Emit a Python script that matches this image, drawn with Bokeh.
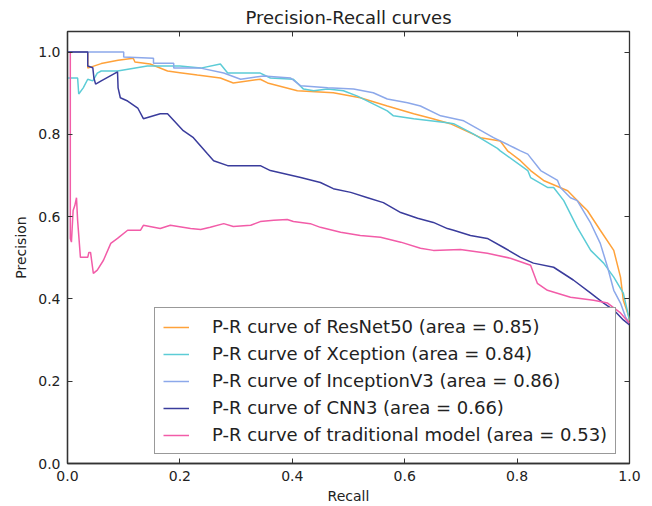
from bokeh.plotting import figure
from bokeh.models import (Range1d, LinearAxis, SingleIntervalTicker, NumeralTickFormatter, Legend, LegendItem,
                          CustomJSTickFormatter)
from bokeh.embed import file_html
from bokeh.resources import INLINE

# ---------------- data ----------------
resnet_r = [0.0, 0.036, 0.036, 0.06, 0.09, 0.117, 0.12, 0.147, 0.178, 0.2, 0.231, 0.272, 0.295, 0.343, 0.356,
            0.409, 0.473, 0.521, 0.569, 0.616, 0.650, 0.681, 0.735, 0.770, 0.783, 0.806, 0.824, 0.847, 0.890,
            0.907, 0.925, 0.948, 0.972, 0.984, 0.989, 0.998, 1.0]
resnet_p = [1.0, 1.0, 0.961, 0.972, 0.980, 0.985, 0.976, 0.971, 0.954, 0.950, 0.944, 0.937, 0.925, 0.934, 0.925,
            0.906, 0.901, 0.889, 0.869, 0.850, 0.838, 0.826, 0.792, 0.784, 0.760, 0.736, 0.712, 0.688, 0.663,
            0.639, 0.615, 0.567, 0.518, 0.453, 0.397, 0.360, 0.345]

xcep_r = [0.0, 0.018, 0.020, 0.028, 0.036, 0.045, 0.053, 0.060, 0.089, 0.142, 0.200, 0.237, 0.272, 0.285, 0.343,
          0.361, 0.402, 0.420, 0.438, 0.463, 0.491, 0.516, 0.569, 0.580, 0.616, 0.676, 0.687, 0.722, 0.765,
          0.770, 0.819, 0.824, 0.854, 0.865, 0.883, 0.907, 0.931, 0.954, 0.972, 0.989, 0.998, 1.0]
xcep_p = [0.937, 0.937, 0.898, 0.913, 0.934, 0.930, 0.949, 0.954, 0.954, 0.966, 0.966, 0.961, 0.971, 0.949, 0.949,
          0.937, 0.934, 0.910, 0.906, 0.910, 0.906, 0.893, 0.857, 0.845, 0.838, 0.828, 0.826, 0.801, 0.766,
          0.760, 0.712, 0.695, 0.671, 0.671, 0.639, 0.574, 0.518, 0.487, 0.453, 0.414, 0.360, 0.349]

incep_r = [0.0, 0.100, 0.100, 0.153, 0.153, 0.189, 0.189, 0.237, 0.278, 0.308, 0.349, 0.397, 0.415, 0.463,
           0.509, 0.544, 0.569, 0.605, 0.628, 0.664, 0.705, 0.758, 0.794, 0.806, 0.819, 0.842, 0.872, 0.877,
           0.895, 0.907, 0.931, 0.948, 0.961, 0.972, 0.984, 0.993, 1.0]
incep_p = [1.0, 1.0, 0.988, 0.985, 0.973, 0.973, 0.961, 0.961, 0.949, 0.934, 0.942, 0.937, 0.918, 0.913,
           0.910, 0.901, 0.886, 0.877, 0.869, 0.845, 0.833, 0.792, 0.768, 0.760, 0.752, 0.712, 0.688, 0.671,
           0.646, 0.639, 0.584, 0.535, 0.477, 0.421, 0.390, 0.356, 0.341]

cnn_r = [0.0, 0.036, 0.036, 0.045, 0.047, 0.050, 0.060, 0.089, 0.090, 0.094, 0.107, 0.125, 0.135, 0.165, 0.178,
         0.206, 0.224, 0.249, 0.260, 0.285, 0.343, 0.361, 0.415, 0.450, 0.473, 0.504, 0.534, 0.562, 0.593, 0.623,
         0.651, 0.676, 0.687, 0.717, 0.747, 0.776, 0.806, 0.829, 0.865, 0.900, 0.931, 0.954, 0.972, 0.989, 1.0]
cnn_p = [1.0, 1.0, 0.966, 0.962, 0.937, 0.922, 0.930, 0.952, 0.913, 0.889, 0.881, 0.864, 0.838, 0.850, 0.850,
         0.809, 0.792, 0.753, 0.736, 0.724, 0.724, 0.712, 0.695, 0.683, 0.668, 0.659, 0.646, 0.634, 0.610, 0.596,
         0.586, 0.571, 0.567, 0.554, 0.547, 0.525, 0.501, 0.487, 0.477, 0.446, 0.414, 0.390, 0.373, 0.349, 0.337]

trad_r = [0.005, 0.005, 0.007, 0.010, 0.013, 0.016, 0.018, 0.023, 0.036, 0.038, 0.041, 0.046, 0.053, 0.064, 0.077,
          0.089, 0.107, 0.130, 0.135, 0.165, 0.183, 0.219, 0.237, 0.254, 0.278, 0.295, 0.326, 0.343, 0.367, 0.391,
          0.402, 0.432, 0.450, 0.486, 0.521, 0.557, 0.593, 0.628, 0.651, 0.699, 0.747, 0.788, 0.824, 0.836, 0.854,
          0.895, 0.936, 0.961, 0.984, 1.0]
trad_p = [1.0, 0.547, 0.538, 0.615, 0.627, 0.646, 0.591, 0.501, 0.501, 0.513, 0.513, 0.462, 0.470, 0.494, 0.535,
          0.547, 0.567, 0.567, 0.579, 0.571, 0.579, 0.571, 0.569, 0.574, 0.583, 0.576, 0.579, 0.588, 0.591, 0.593,
          0.588, 0.583, 0.574, 0.562, 0.554, 0.550, 0.538, 0.523, 0.518, 0.520, 0.511, 0.499, 0.482, 0.438, 0.421,
          0.404, 0.397, 0.390, 0.366, 0.341]

labels = ["P-R curve of ResNet50 (area = 0.85)",
          "P-R curve of Xception (area = 0.84)",
          "P-R curve of InceptionV3 (area = 0.86)",
          "P-R curve of CNN3 (area = 0.66)",
          "P-R curve of traditional model (area = 0.53)"]
colors = ["#FFA23A", "#5CCCD6", "#8CA8EA", "#3A3C9C", "#F25CA8"]
series = [(resnet_r, resnet_p), (xcep_r, xcep_p), (incep_r, incep_p), (cnn_r, cnn_p), (trad_r, trad_p)]

FONT = "DejaVu Sans"
TXT = "#222222"

p = figure(width=652, height=506, output_backend="svg", toolbar_location=None,
           x_range=Range1d(0, 1), y_range=Range1d(0, 1.05),
           min_border_left=67, min_border_right=23, min_border_top=31, min_border_bottom=10,
           title="Precision-Recall curves")
p.title.align = "center"
p.title.text_font = FONT
p.title.text_font_size = "18px"
p.title.text_font_style = "normal"
p.title.text_color = TXT
p.title.standoff = 0

p.xgrid.visible = False
p.ygrid.visible = False
p.outline_line_color = "#333333"
p.outline_line_width = 1.3
p.background_fill_color = "white"
p.border_fill_color = "white"

for ax in (p.xaxis[0], p.yaxis[0]):
    ax.ticker = SingleIntervalTicker(interval=0.2)
    ax.formatter = NumeralTickFormatter(format="0.0")
    ax.major_tick_in = 5
    ax.major_tick_out = 0
    ax.minor_tick_line_color = None
    ax.axis_line_color = "#333333"
    ax.axis_line_width = 1.3
    ax.major_tick_line_color = "#333333"
    ax.major_label_text_font = FONT
    ax.major_label_text_font_size = "14px"
    ax.major_label_text_color = TXT
    ax.axis_label_text_font = FONT
    ax.axis_label_text_font_size = "14px"
    ax.axis_label_text_font_style = "normal"
    ax.axis_label_text_color = TXT
p.xaxis.axis_label = "Recall"
p.yaxis.axis_label = "Precision"
p.xaxis.major_label_standoff = 3
p.yaxis.major_label_standoff = 3
p.xaxis.axis_label_standoff = 4
p.yaxis.axis_label_standoff = 6

for loc in ("above", "right"):
    ax = LinearAxis(ticker=SingleIntervalTicker(interval=0.2),
                    formatter=CustomJSTickFormatter(code="return ''"),
                    major_tick_in=5, major_tick_out=0, minor_tick_line_color=None,
                    major_label_standoff=0, axis_line_color=None, major_tick_line_color="#333333")
    p.add_layout(ax, loc)

items = []
for (r, pr), c, lab in zip(series, colors, labels):
    rend = p.line(r, pr, line_color=c, line_width=1.5)
    items.append(LegendItem(label=lab, renderers=[rend]))

legend = Legend(items=items, location=(87, 9))
legend.label_text_font = FONT
legend.label_text_font_size = "18px"
legend.label_text_color = TXT
legend.glyph_width = 26
legend.glyph_height = 20
legend.label_height = 20
legend.label_standoff = 23
legend.spacing = 6
legend.padding = 8
legend.margin = 0
legend.border_line_color = "#333333"
legend.border_line_width = 1.3
legend.background_fill_alpha = 1
p.add_layout(legend, "center")

open("out.html", "w").write(file_html(p, INLINE))
